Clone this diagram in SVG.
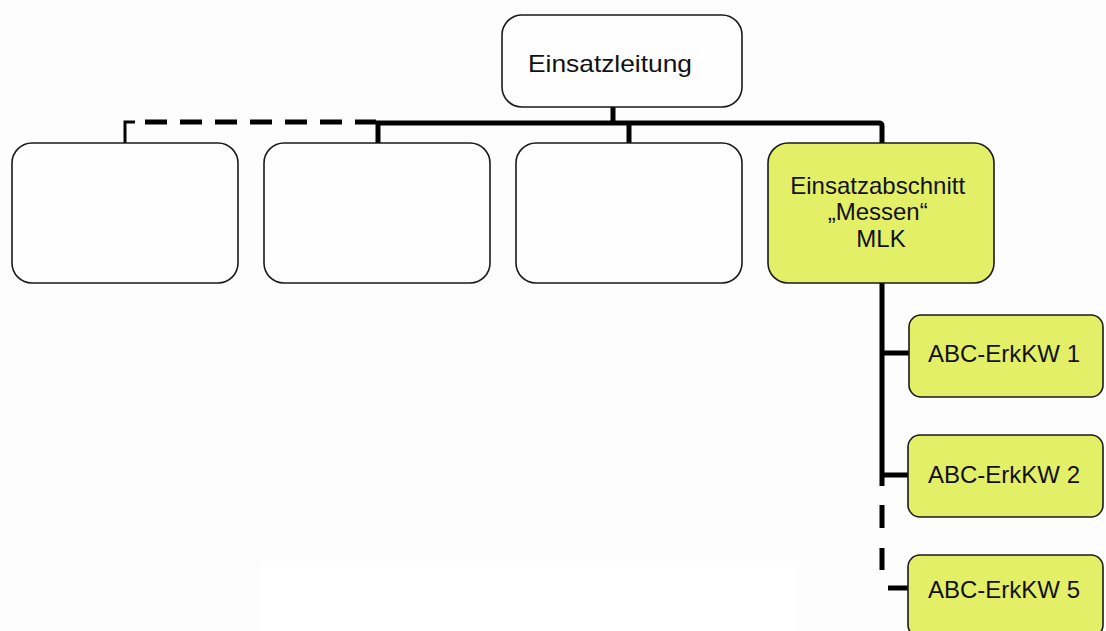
<svg xmlns="http://www.w3.org/2000/svg" width="1106" height="631" viewBox="0 0 1106 631">
  <style>
    .box { fill: #fefefe; stroke: #1a1a1a; stroke-width: 1.6; }
    .unit { fill: #e4ef68; stroke: #1a1a1a; stroke-width: 1.6; }
    .label { font-family: "Liberation Sans", Arial, sans-serif; font-size: 24px; fill: #111; }
    .link { fill: none; stroke: #000; stroke-width: 5; }
    .dash { fill: none; stroke: #000; stroke-width: 5; stroke-dasharray: 22 13; }
  </style>
  <rect x="0" y="0" width="1106" height="631" fill="#fdfdfd"/>
  <rect x="262" y="565" width="534" height="66" fill="#ffffff"/>

  <!-- connectors -->
  <g id="connectors">
    <path class="link" d="M613 107 V123"/>
    <path class="link" d="M376 123 H879 Q882 123 882 126 V143"/>
    <path class="link" d="M378 123 V143"/>
    <path class="link" d="M629 123 V143"/>
    <path class="dash" d="M145 122 H376"/>
    <path d="M125 143 V122 H135" fill="none" stroke="#000" stroke-width="3"/>
    <path class="link" d="M882 283 V486"/>
    <path class="link" d="M882 353 H909"/>
    <path class="link" d="M882 475 H908"/>
    <path class="link" d="M882 505 V528 M882 548 V570"/>
    <path class="link" d="M888 588 H908"/>
  </g>

  <g id="einsatzleitung">
    <rect class="box" x="502" y="15" width="240" height="92" rx="20" stroke-width="2"/>
    <text class="label" x="528" y="72" font-size="25" textLength="164" lengthAdjust="spacingAndGlyphs">Einsatzleitung</text>
  </g>

  <g id="abschnitt-1">
    <rect class="box" x="12" y="143" width="226" height="140" rx="20"/>
  </g>
  <g id="abschnitt-2">
    <rect class="box" x="264" y="143" width="226" height="140" rx="20"/>
  </g>
  <g id="abschnitt-3">
    <rect class="box" x="516" y="143" width="226" height="140" rx="20"/>
  </g>

  <g id="abschnitt-messen">
    <rect class="unit" x="768" y="143" width="226" height="140" rx="20"/>
    <text class="label" text-anchor="middle">
      <tspan x="881" y="194">Einsatzabschnitt</tspan>
      <tspan x="881" y="220">„Messen“</tspan>
      <tspan x="881" y="247">MLK</tspan>
    </text>
  </g>

  <g id="erkkw-1">
    <rect class="unit" x="909" y="315" width="194" height="82" rx="12"/>
    <text class="label" x="928" y="362" font-size="23.5">ABC-ErkKW 1</text>
  </g>
  <g id="erkkw-2">
    <rect class="unit" x="908" y="435" width="195" height="82" rx="12"/>
    <text class="label" x="928" y="483" font-size="23.5">ABC-ErkKW 2</text>
  </g>
  <g id="erkkw-5">
    <rect class="unit" x="908" y="555" width="195" height="82" rx="12"/>
    <text class="label" x="928" y="598" font-size="23.5">ABC-ErkKW 5</text>
  </g>
</svg>
